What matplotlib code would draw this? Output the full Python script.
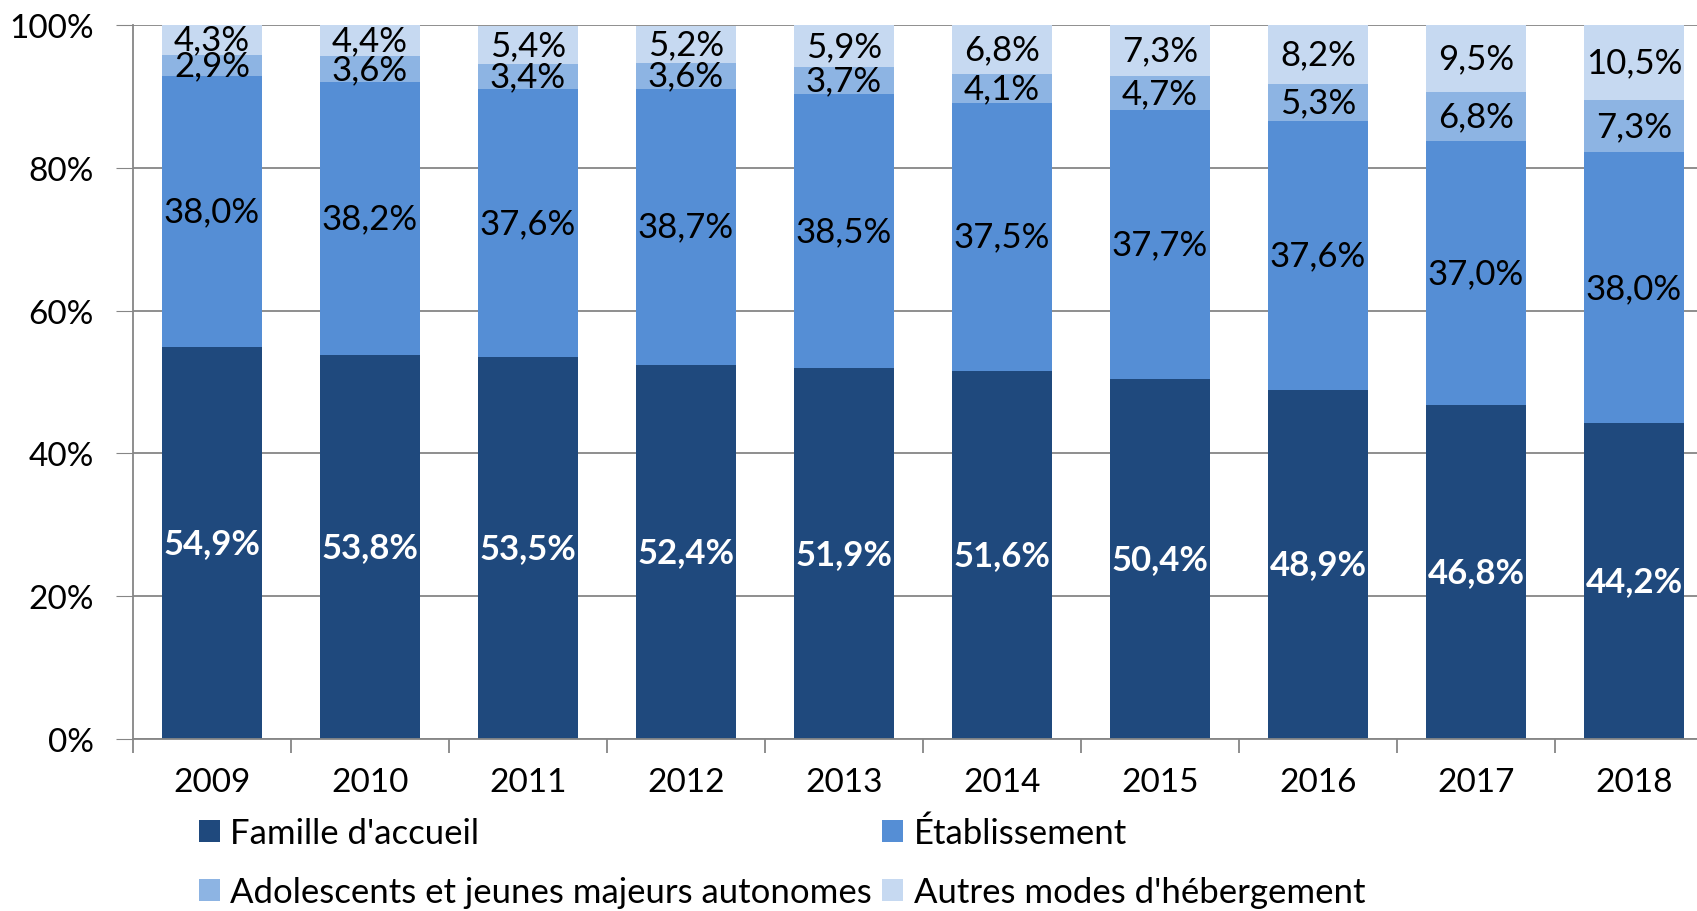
import numpy as np
import matplotlib
matplotlib.use("Agg")
import matplotlib.pyplot as plt

plt.rcParams['font.family'] = ['Lato', 'DejaVu Sans']

# --- Data ---
years = ['2009', '2010', '2011', '2012', '2013', '2014', '2015', '2016', '2017', '2018']
famille = [54.9, 53.8, 53.5, 52.4, 51.9, 51.6, 50.4, 48.9, 46.8, 44.2]
etablissement = [38.0, 38.2, 37.6, 38.7, 38.5, 37.5, 37.7, 37.6, 37.0, 38.0]
adolescents = [2.9, 3.6, 3.4, 3.6, 3.7, 4.1, 4.7, 5.3, 6.8, 7.3]
autres = [4.3, 4.4, 5.4, 5.2, 5.9, 6.8, 7.3, 8.2, 9.5, 10.5]

series = [
    ("Famille d'accueil", famille, '#1F497D', 'white', 'bold'),
    ("Établissement", etablissement, '#558ED5', 'black', 'normal'),
    ("Adolescents et jeunes majeurs autonomes", adolescents, '#8DB4E3', 'black', 'normal'),
    ("Autres modes d'hébergement", autres, '#C6D9F1', 'black', 'normal'),
]

fig = plt.figure(figsize=(16.97, 9.12), dpi=100)
ax = fig.add_axes([133 / 1697, 1 - 740 / 912, 1580 / 1697, 714 / 912])

x = np.arange(len(years))
bottom = np.zeros(len(years))
handles = []
for name, vals, color, tcolor, weight in series:
    vals = np.array(vals)
    b = ax.bar(x, vals, 0.63, bottom=bottom, color=color, label=name, zorder=2)
    handles.append(b)
    for xi, v, b0 in zip(x, vals, bottom):
        ax.text(xi, b0 + v / 2, f"{v:.1f}%".replace('.', ','), ha='center', va='center',
                color=tcolor, fontweight=weight, fontsize=25, zorder=3)
    bottom += vals

ax.set_xlim(-0.5, len(years) - 0.5)
ax.set_ylim(0, 100)
ax.set_yticks(np.arange(0, 101, 20))
ax.set_yticklabels([f"{v}%" for v in range(0, 101, 20)], fontsize=24)
ax.yaxis.grid(True, color='#868686', linewidth=1.3, zorder=0)
ax.tick_params(axis='y', length=12, color='#868686', pad=16)

ax.set_xticks(x)
ax.set_xticklabels(years, fontsize=24)
ax.set_xticks(np.arange(-0.5, len(years)), minor=True)
ax.tick_params(axis='x', which='major', length=0, pad=20)
ax.tick_params(axis='x', which='minor', length=10, color='#868686', width=1.3)

for s in ['top', 'right']:
    ax.spines[s].set_visible(False)
for s in ['left', 'bottom']:
    ax.spines[s].set_color('#868686')
    ax.spines[s].set_linewidth(1.3)

# legend filled row by row: famille, etablissement / adolescents, autres
order = [0, 2, 1, 3]
fig.legend(handles=[handles[i] for i in order], loc='upper left', bbox_to_anchor=(185 / 1697, 0.119),
           ncol=2, frameon=False, fontsize=25, handlelength=0.6, handleheight=0.6,
           handletextpad=0.3, columnspacing=0.3, labelspacing=0.78, borderaxespad=0.0)

fig.savefig('out.png', dpi=100)
